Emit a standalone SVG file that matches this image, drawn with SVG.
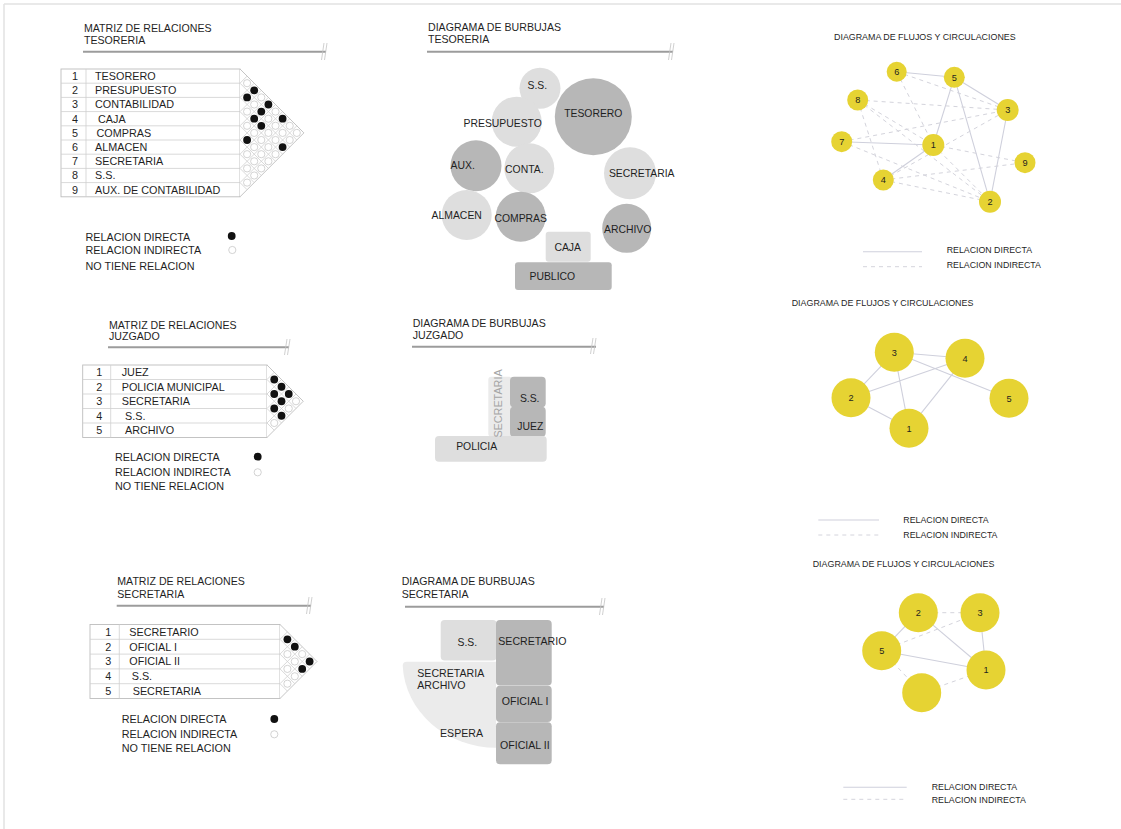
<svg xmlns="http://www.w3.org/2000/svg" width="1121" height="829" viewBox="0 0 1121 829">
<defs>
<style>
text{font-family:"Liberation Sans",Arial,sans-serif;fill:#1f1f1f}
.t{font-size:10.6px}
.l{font-size:10.8px}
.n{font-size:10.8px;text-anchor:middle}
.b{font-size:10.4px;text-anchor:middle}
.bs{font-size:10.6px}
.ft{font-size:8.9px}
.fl{font-size:8.8px}
.nn{font-size:9.2px;text-anchor:middle}
.ul{stroke:#9c9c9c;stroke-width:2;fill:none}
.brk{stroke:#c4c4c4;stroke-width:0.8;fill:none}
.tbl{fill:#fff;stroke:#bdbdbd;stroke-width:0.9}
.lat{stroke:#cfcfcf;stroke-width:0.8;fill:none}
.dir{fill:#111}
.ind{fill:#fff;stroke:#c8c8c8;stroke-width:0.8}
.sol{stroke:#cfd0dc;stroke-width:1.1;fill:none}
.dash{stroke:#d4d4dc;stroke-width:1;stroke-dasharray:4 4;fill:none}
.yel{fill:#e6d333}
.lg{fill:#dedede}
.dk{fill:#b7b7b7}
.xl{fill:#ebebeb}
</style>
<circle id="dot" r="3.9" class="dir"/>
<circle id="ring" r="3.6" class="ind"/>
</defs>
<rect width="1121" height="829" fill="#fff"/>
<g id="frame"><line x1="4" y1="4" x2="1121" y2="4" stroke="#e2e2e2" stroke-width="1.5"/><line x1="4" y1="4" x2="4" y2="829" stroke="#e2e2e2" stroke-width="1.5"/></g>

<!-- ===== MATRIZ TESORERIA ===== -->
<g id="matriz-tesoreria">
<text class="t" x="84" y="32">MATRIZ DE RELACIONES</text>
<text class="t" x="84" y="44">TESORERIA</text>
<line class="ul" x1="83" y1="51.7" x2="326" y2="51.7"/>
<path class="brk" d="M321.5,60 L324,43 M324.5,60 L327,43"/>
<rect class="tbl" x="61" y="69" width="179" height="127.8"/>
<path class="tbl" d="M240,69 L303.9,132.9 L240,196.8"/>
<path class="lat" d="M61,83.2H240M61,97.4H240M61,111.6H240M61,125.8H240M61,140H240M61,154.2H240M61,168.4H240M61,182.6H240M86,69V196.8"/>
<path class="lat" d="M240,83.2L296.8,140M240,97.4L289.7,147.1M240,111.6L282.6,154.2M240,125.8L275.5,161.3M240,140L268.4,168.4M240,154.2L261.3,175.5M240,168.4L254.2,182.6M240,182.6L247.1,189.7M240,83.2L247.1,76.1M240,97.4L254.2,83.2M240,111.6L261.3,90.3M240,125.8L268.4,97.4M240,140L275.5,104.5M240,154.2L282.6,111.6M240,168.4L289.7,118.7M240,182.6L296.8,125.8"/>
<text class="n" x="75" y="80">1</text><text class="n" x="75" y="94.2">2</text><text class="n" x="75" y="108.4">3</text><text class="n" x="75" y="122.6">4</text><text class="n" x="75" y="136.8">5</text><text class="n" x="75" y="151">6</text><text class="n" x="75" y="165.2">7</text><text class="n" x="75" y="179.4">8</text><text class="n" x="75" y="193.6">9</text>
<text class="l" x="95" y="80">TESORERO</text>
<text class="l" x="95" y="94.2">PRESUPUESTO</text>
<text class="l" x="95" y="108.4">CONTABILIDAD</text>
<text class="l" x="98" y="122.6">CAJA</text>
<text class="l" x="96.5" y="136.8">COMPRAS</text>
<text class="l" x="95" y="151">ALMACEN</text>
<text class="l" x="95" y="165.2">SECRETARIA</text>
<text class="l" x="95" y="179.4">S.S.</text>
<text class="l" x="95" y="193.6">AUX. DE CONTABILIDAD</text>
<use href="#ring" x="247.1" y="83.2"/><use href="#ring" x="261.3" y="97.4"/><use href="#ring" x="275.5" y="111.6"/><use href="#ring" x="289.7" y="125.8"/><use href="#ring" x="296.8" y="132.9"/><use href="#ring" x="254.2" y="104.5"/><use href="#ring" x="268.4" y="118.7"/><use href="#ring" x="275.5" y="125.8"/><use href="#ring" x="282.6" y="132.9"/><use href="#ring" x="289.7" y="140"/><use href="#ring" x="247.1" y="111.6"/><use href="#ring" x="268.4" y="132.9"/><use href="#ring" x="275.5" y="140"/><use href="#ring" x="247.1" y="125.8"/><use href="#ring" x="254.2" y="132.9"/><use href="#ring" x="261.3" y="140"/><use href="#ring" x="268.4" y="147.1"/><use href="#ring" x="275.5" y="154.2"/><use href="#ring" x="254.2" y="147.1"/><use href="#ring" x="261.3" y="154.2"/><use href="#ring" x="268.4" y="161.3"/><use href="#ring" x="247.1" y="154.2"/><use href="#ring" x="254.2" y="161.3"/><use href="#ring" x="261.3" y="168.4"/><use href="#ring" x="247.1" y="168.4"/><use href="#ring" x="254.2" y="175.5"/><use href="#ring" x="247.1" y="182.6"/>
<use href="#dot" x="254.2" y="90.3"/><use href="#dot" x="247.1" y="97.4"/><use href="#dot" x="268.4" y="104.5"/><use href="#dot" x="261.3" y="111.6"/><use href="#dot" x="254.2" y="118.7"/><use href="#dot" x="282.6" y="118.7"/><use href="#dot" x="261.3" y="125.8"/><use href="#dot" x="247.1" y="140"/><use href="#dot" x="282.6" y="147.1"/>
<text class="l" x="85.5" y="240.5">RELACION DIRECTA</text>
<text class="l" x="85.5" y="254">RELACION INDIRECTA</text>
<text class="l" x="85.5" y="270">NO TIENE RELACION</text>
<use href="#dot" x="231.7" y="236"/><use href="#ring" x="232.3" y="250"/>
</g>

<!-- ===== BURBUJAS TESORERIA ===== -->
<g id="burbujas-tesoreria">
<text class="t" x="428" y="30.5">DIAGRAMA DE BURBUJAS</text>
<text class="t" x="428" y="43">TESORERIA</text>
<line class="ul" x1="427" y1="51.7" x2="673" y2="51.7"/>
<path class="brk" d="M668.5,60 L671,43 M671.5,60 L674,43"/>
<circle class="lg" cx="540" cy="88.3" r="20.5"/>
<circle class="dk" cx="593.3" cy="116.7" r="38.5"/>
<circle class="lg" cx="516.7" cy="121.7" r="25"/>
<circle class="dk" cx="476" cy="165.7" r="25.5"/>
<circle class="lg" cx="529.3" cy="168.3" r="25"/>
<circle class="lg" cx="630" cy="173.3" r="26"/>
<circle class="lg" cx="466.7" cy="215" r="25"/>
<circle class="dk" cx="520.7" cy="216.7" r="25"/>
<circle class="dk" cx="626.7" cy="228.3" r="24.5"/>
<rect class="lg" x="545.7" y="231.7" width="45" height="30" rx="3"/>
<rect class="dk" x="515" y="262.3" width="96.7" height="27.7" rx="3"/>
<text class="b" x="537.3" y="88.7">S.S.</text>
<text class="b" x="593.3" y="117">TESORERO</text>
<text class="b" x="502.7" y="127">PRESUPUESTO</text>
<text class="b" x="462.7" y="168.7">AUX.</text>
<text class="b" x="524.3" y="173">CONTA.</text>
<text class="b" x="641.7" y="177">SECRETARIA</text>
<text class="b" x="456.7" y="218.7">ALMACEN</text>
<text class="b" x="520.7" y="222">COMPRAS</text>
<text class="b" x="627.7" y="233">ARCHIVO</text>
<text class="b" x="567.7" y="251">CAJA</text>
<text class="b" x="552.3" y="280.4">PUBLICO</text>
</g>

<!-- ===== FLUJOS TESORERIA ===== -->
<g id="flujos-tesoreria-conectores">
<path class="sol" d="M896.7,71.7L954.3,77.3M954.3,77.3L1007.7,110M954.3,77.3L933.3,145M954.3,77.3L990,201.7M1007.7,110L990,201.7M841.7,141.7L933.3,145M933.3,145L883.3,180"/>
<path class="dash" d="M857.7,100L1007.7,110M857.7,100L933.3,145M857.7,100L990,201.7M896.7,71.7L933.3,145M896.7,71.7L1007.7,110M841.7,141.7L1007.7,110M841.7,141.7L990,201.7M883.3,180L1007.7,110M883.3,180L1025,162.7M933.3,145L1025,162.7M933.3,145L990,201.7M883.3,180L990,201.7M857.7,100L883.3,180"/>
</g>
<g id="flujos-tesoreria">
<text class="ft" x="834" y="40.3">DIAGRAMA DE FLUJOS Y CIRCULACIONES</text>
<g id="ft-n6"><circle class="yel" cx="896.7" cy="71.7" r="10"/><text class="nn" x="896.7" y="75">6</text></g>
<g id="ft-n5"><circle class="yel" cx="954.3" cy="77.3" r="10.5"/><text class="nn" x="954.3" y="80.6">5</text></g>
<g id="ft-n8"><circle class="yel" cx="857.7" cy="100" r="10.5"/><text class="nn" x="857.7" y="103.3">8</text></g>
<g id="ft-n3"><circle class="yel" cx="1007.7" cy="110" r="11"/><text class="nn" x="1007.7" y="113.3">3</text></g>
<g id="ft-n7"><circle class="yel" cx="841.7" cy="141.7" r="10.5"/><text class="nn" x="841.7" y="145">7</text></g>
<g id="ft-n1"><circle class="yel" cx="933.3" cy="145" r="11"/><text class="nn" x="933.3" y="148.3">1</text></g>
<g id="ft-n9"><circle class="yel" cx="1025" cy="162.7" r="10.5"/><text class="nn" x="1025" y="166">9</text></g>
<g id="ft-n4"><circle class="yel" cx="883.3" cy="180" r="10.5"/><text class="nn" x="883.3" y="183.3">4</text></g>
<g id="ft-n2"><circle class="yel" cx="990" cy="201.7" r="11"/><text class="nn" x="990" y="205">2</text></g>
<line class="sol" x1="863" y1="251.7" x2="922" y2="251.7"/>
<line class="dash" x1="863" y1="266.7" x2="922" y2="266.7"/>
<text class="fl" x="946.7" y="253.2">RELACION DIRECTA</text>
<text class="fl" x="946.7" y="268.2">RELACION INDIRECTA</text>
</g>

<!-- ===== MATRIZ JUZGADO ===== -->
<g id="matriz-juzgado">
<text class="t" x="109" y="329">MATRIZ DE RELACIONES</text>
<text class="t" x="109" y="340">JUZGADO</text>
<line class="ul" x1="108" y1="347.3" x2="289" y2="347.3"/>
<path class="brk" d="M284.5,355 L287,339 M287.5,355 L290,339"/>
<rect class="tbl" x="82.7" y="365" width="184.3" height="72.5"/>
<path class="tbl" d="M267,365 L303.25,401.25 L267,437.5"/>
<path class="lat" d="M82.7,379.5H267M82.7,394H267M82.7,408.5H267M82.7,423H267M110.7,365V437.5"/>
<path class="lat" d="M267,379.5L296,408.5M267,394L288.75,415.75M267,408.5L281.5,423M267,423L274.25,430.25M267,379.5L274.25,372.25M267,394L281.5,379.5M267,408.5L288.75,386.75M267,423L296,394"/>
<text class="n" x="99.3" y="376">1</text><text class="n" x="99.3" y="390.5">2</text><text class="n" x="99.3" y="405">3</text><text class="n" x="99.3" y="419.5">4</text><text class="n" x="99.3" y="434">5</text>
<text class="l" x="121.7" y="376">JUEZ</text>
<text class="l" x="121.7" y="390.5">POLICIA MUNICIPAL</text>
<text class="l" x="121.7" y="405">SECRETARIA</text>
<text class="l" x="125" y="419.5">S.S.</text>
<text class="l" x="125" y="434">ARCHIVO</text>
<use href="#ring" x="296" y="401.25"/><use href="#ring" x="288.75" y="408.5"/><use href="#ring" x="274.25" y="423"/>
<use href="#dot" x="274.25" y="379.5"/><use href="#dot" x="281.5" y="386.75"/><use href="#dot" x="274.25" y="394"/><use href="#dot" x="288.75" y="394"/><use href="#dot" x="281.5" y="401.25"/><use href="#dot" x="274.25" y="408.5"/><use href="#dot" x="281.5" y="415.75"/>
<text class="l" x="115" y="460.5">RELACION DIRECTA</text>
<text class="l" x="115" y="476">RELACION INDIRECTA</text>
<text class="l" x="115" y="489.5">NO TIENE RELACION</text>
<use href="#dot" x="257.7" y="456.7"/><use href="#ring" x="257.7" y="472.3"/>
</g>

<!-- ===== BURBUJAS JUZGADO ===== -->
<g id="burbujas-juzgado">
<text class="t" x="412.7" y="327">DIAGRAMA DE BURBUJAS</text>
<text class="t" x="412.7" y="339">JUZGADO</text>
<line class="ul" x1="412" y1="346.7" x2="596" y2="346.7"/>
<path class="brk" d="M590.5,354 L593,338 M593.5,354 L596,338"/>
<rect class="xl" x="488.3" y="376.7" width="24" height="60" rx="3"/>
<rect class="dk" x="510" y="376.7" width="35.7" height="30.5" rx="4"/>
<rect class="dk" x="510" y="406.7" width="35.7" height="30" rx="4"/>
<rect class="lg" x="435" y="436" width="111.7" height="25.7" rx="4"/>
<text x="502" y="403.5" transform="rotate(-90 502 403.5)" style="font-size:10.8px;text-anchor:middle;fill:#a5a5a5">SECRETARIA</text>
<text class="b" x="529.7" y="401.7">S.S.</text>
<text class="b" x="530.3" y="429.7">JUEZ</text>
<text class="b" x="476.7" y="450.4">POLICIA</text>
</g>

<!-- ===== FLUJOS JUZGADO ===== -->
<g id="flujos-juzgado-conectores">
<path class="sol" d="M894.3,352.3L965,358.3M894.3,352.3L851,397.7M894.3,352.3L909,428.3M894.3,352.3L1009,398.3M851,397.7L965,358.3M851,397.7L909,428.3M909,428.3L965,358.3"/>
</g>
<g id="flujos-juzgado">
<text class="ft" x="791.7" y="305.7">DIAGRAMA DE FLUJOS Y CIRCULACIONES</text>
<g id="fj-n3"><circle class="yel" cx="894.3" cy="352.3" r="19.5"/><text class="nn" x="894.3" y="355.6">3</text></g>
<g id="fj-n4"><circle class="yel" cx="965" cy="358.3" r="19.5"/><text class="nn" x="965" y="361.6">4</text></g>
<g id="fj-n2"><circle class="yel" cx="851" cy="397.7" r="19.5"/><text class="nn" x="851" y="401">2</text></g>
<g id="fj-n5"><circle class="yel" cx="1009" cy="398.3" r="19.5"/><text class="nn" x="1009" y="401.6">5</text></g>
<g id="fj-n1"><circle class="yel" cx="909" cy="428.3" r="19.5"/><text class="nn" x="909" y="431.6">1</text></g>
<line class="sol" x1="818.3" y1="520" x2="879" y2="520"/>
<line class="dash" x1="818.3" y1="535" x2="879" y2="535"/>
<text class="fl" x="903.3" y="522.5">RELACION DIRECTA</text>
<text class="fl" x="903.3" y="537.8">RELACION INDIRECTA</text>
</g>

<!-- ===== MATRIZ SECRETARIA ===== -->
<g id="matriz-secretaria">
<text class="t" x="117.3" y="585">MATRIZ DE RELACIONES</text>
<text class="t" x="117.3" y="598">SECRETARIA</text>
<line class="ul" x1="116.7" y1="605.7" x2="311" y2="605.7"/>
<path class="brk" d="M306.5,614 L309,597 M309.5,614 L312,597"/>
<rect class="tbl" x="90" y="624.5" width="190" height="74"/>
<path class="tbl" d="M280,624.5 L317,661.5 L280,698.5"/>
<path class="lat" d="M90,639.3H280M90,654.1H280M90,668.9H280M90,683.7H280M119.3,624.5V698.5"/>
<path class="lat" d="M280,639.3L309.6,668.9M280,654.1L302.2,676.3M280,668.9L294.8,683.7M280,683.7L287.4,691.1M280,639.3L287.4,631.9M280,654.1L294.8,639.3M280,668.9L302.2,646.7M280,683.7L309.6,654.1"/>
<text class="n" x="108.3" y="635.7">1</text><text class="n" x="108.3" y="650.5">2</text><text class="n" x="108.3" y="665.3">3</text><text class="n" x="108.3" y="680.1">4</text><text class="n" x="108.3" y="694.9">5</text>
<text class="l" x="129.3" y="635.7">SECRETARIO</text>
<text class="l" x="129.3" y="650.5">OFICIAL I</text>
<text class="l" x="129.3" y="665.3">OFICIAL II</text>
<text class="l" x="131.7" y="680.1">S.S.</text>
<text class="l" x="132.7" y="694.9">SECRETARIA</text>
<use href="#ring" x="302.2" y="654.1"/><use href="#ring" x="287.4" y="654.1"/><use href="#ring" x="294.8" y="661.5"/><use href="#ring" x="287.4" y="668.9"/><use href="#ring" x="294.8" y="676.3"/><use href="#ring" x="287.4" y="683.7"/>
<use href="#dot" x="287.4" y="639.3"/><use href="#dot" x="294.8" y="646.7"/><use href="#dot" x="309.6" y="661.5"/><use href="#dot" x="302.2" y="668.9"/>
<text class="l" x="121.7" y="722.7">RELACION DIRECTA</text>
<text class="l" x="121.7" y="738">RELACION INDIRECTA</text>
<text class="l" x="121.7" y="752">NO TIENE RELACION</text>
<use href="#dot" x="274.3" y="719"/><use href="#ring" x="274.3" y="734.3"/>
</g>

<!-- ===== BURBUJAS SECRETARIA ===== -->
<g id="burbujas-secretaria">
<text class="t" x="401.7" y="585">DIAGRAMA DE BURBUJAS</text>
<text class="t" x="401.7" y="598">SECRETARIA</text>
<line class="ul" x1="405" y1="606.7" x2="604" y2="606.7"/>
<path class="brk" d="M599.5,615 L602,598 M602.5,615 L605,598"/>
<path class="xl" d="M496,661.7 L496,747.7 A93.3,86 0 0 1 402.7,665.7 Q402.7,661.7 406.7,661.7 Z"/>
<rect class="lg" x="440.7" y="620" width="56" height="40.5" rx="4"/>
<rect class="dk" x="496" y="620" width="55.7" height="65.5" rx="4"/>
<rect class="dk" x="496" y="685.7" width="55.7" height="36.3" rx="4"/>
<rect class="dk" x="496" y="722.3" width="55.7" height="42" rx="4"/>
<text class="b" x="467.3" y="646">S.S.</text>
<text class="bs" x="498.3" y="644.7">SECRETARIO</text>
<text class="bs" x="501.7" y="705.4">OFICIAL I</text>
<text class="bs" x="500" y="748.7">OFICIAL II</text>
<text class="bs" x="417.3" y="677">SECRETARIA</text>
<text class="bs" x="417.3" y="688.7">ARCHIVO</text>
<text class="bs" x="440" y="737">ESPERA</text>
</g>

<!-- ===== FLUJOS SECRETARIA ===== -->
<g id="flujos-secretaria-conectores">
<path class="sol" d="M918.3,612.7L881.7,650.7M980,612.7L986,670M881.7,650.7L986,670M986,670L918.3,612.7"/>
<path class="dash" d="M918.3,612.7L980,612.7M881.7,650.7L980,612.7M921.7,692.7L986,670M881.7,650.7L921.7,692.7"/>
</g>
<g id="flujos-secretaria">
<text class="ft" x="812.7" y="567">DIAGRAMA DE FLUJOS Y CIRCULACIONES</text>
<g id="fs-n2"><circle class="yel" cx="918.3" cy="612.7" r="19.5"/><text class="nn" x="918.3" y="616">2</text></g>
<g id="fs-n3"><circle class="yel" cx="980" cy="612.7" r="19.5"/><text class="nn" x="980" y="616">3</text></g>
<g id="fs-n5"><circle class="yel" cx="881.7" cy="650.7" r="19.5"/><text class="nn" x="881.7" y="654">5</text></g>
<g id="fs-n1"><circle class="yel" cx="986" cy="670" r="19.5"/><text class="nn" x="986" y="673.3">1</text></g>
<g id="fs-n4"><circle class="yel" cx="921.7" cy="692.7" r="19.5"/></g>
<line class="sol" x1="843.3" y1="787.3" x2="906.7" y2="787.3"/>
<line class="dash" x1="843.3" y1="799.3" x2="906.7" y2="799.3"/>
<text class="fl" x="931.7" y="789.5">RELACION DIRECTA</text>
<text class="fl" x="931.7" y="803">RELACION INDIRECTA</text>
</g>
</svg>
